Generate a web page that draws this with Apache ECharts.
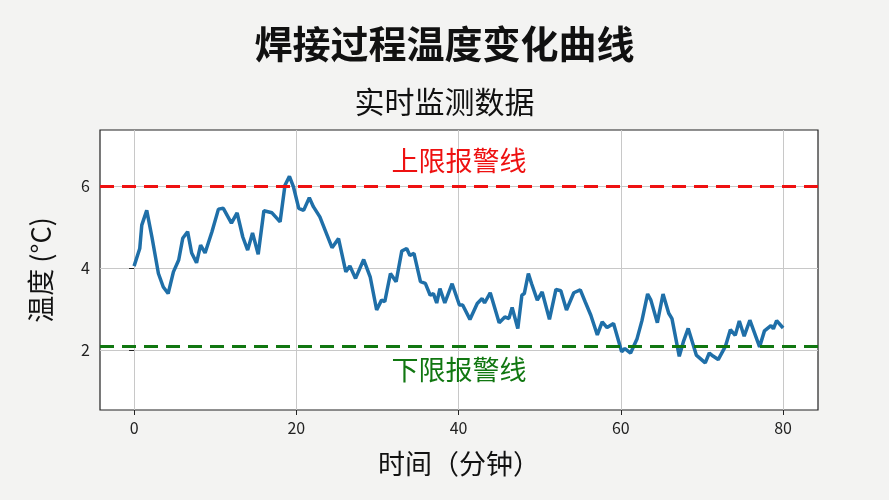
<!DOCTYPE html>
<html><head><meta charset="utf-8">
<script src="https://cdn.jsdelivr.net/npm/echarts@6/dist/echarts.min.js"></script>
<style>html,body{margin:0;padding:0;background:#f3f3f2}#c{width:889px;height:500px}</style>
</head><body><div id="c"></div>
<script>
const times = [0,0.7,0.95,1.56,2.2,3.0,3.6,4.2,4.85,5.5,6.0,6.6,7.1,7.7,8.2,8.75,9.6,10.4,11.0,12.0,12.7,13.4,14.0,14.6,15.3,16.0,17.0,18.0,18.6,19.15,19.65,20.3,20.9,21.6,22.1,22.9,23.8,24.4,25.2,26.1,26.6,27.3,28.3,29.1,29.9,30.5,30.9,31.6,32.3,33.0,33.6,34.0,34.5,35.3,35.9,36.5,36.9,37.3,37.7,38.3,39.2,40.1,40.5,41.4,42.3,42.9,43.2,43.9,45.0,45.7,46.2,46.6,47.3,47.8,48.1,48.6,49.0,49.7,50.3,51.2,52.0,52.6,53.3,54.2,55.0,55.6,56.3,57.1,57.7,58.3,59.1,60.1,60.5,61.2,62.0,62.6,63.3,63.7,64.5,65.2,65.9,66.3,67.2,67.7,68.3,69.3,70.4,70.9,71.4,72.0,72.9,73.5,74.1,74.6,75.2,75.9,77.1,77.7,78.5,78.8,79.2,80.0];
const temps = [4.05,4.48,5.05,5.41,4.76,3.87,3.54,3.38,3.91,4.2,4.73,4.89,4.37,4.13,4.56,4.37,4.89,5.44,5.46,5.1,5.35,4.76,4.44,4.86,4.34,5.4,5.35,5.13,6.02,6.24,5.98,5.46,5.41,5.72,5.5,5.25,4.8,4.5,4.72,3.91,4.05,3.75,4.21,3.79,2.98,3.22,3.18,3.87,3.67,4.42,4.48,4.31,4.36,3.67,3.63,3.34,3.38,3.15,3.5,3.15,3.62,3.1,3.1,2.75,3.14,3.26,3.15,3.4,2.67,2.81,2.77,3.04,2.53,3.34,3.38,3.87,3.62,3.22,3.42,2.75,3.48,3.45,2.98,3.4,3.47,3.18,2.85,2.37,2.69,2.55,2.65,1.96,2.04,1.93,2.28,2.72,3.37,3.22,2.67,3.37,2.9,2.77,1.85,2.2,2.53,1.88,1.69,1.93,1.85,1.77,2.1,2.5,2.36,2.71,2.34,2.73,2.08,2.47,2.6,2.52,2.72,2.54];
const xTicks = [0,20,40,60,80];
const yTicks = [2,4,6];
const upperLimit = 6.0, lowerLimit = 2.1;
const F = '"Noto Sans CJK SC","Noto Sans",sans-serif';
const chart = echarts.init(document.getElementById('c'));
chart.setOption({
  backgroundColor:'#f3f3f2',
  animation:false,
  title:[
    {text:'焊接过程温度变化曲线',left:'center',top:20,textStyle:{fontFamily:F,fontSize:38,fontWeight:'bold',color:'#111'}},
    {text:'实时监测数据',left:'center',top:82,textStyle:{fontFamily:F,fontSize:30,fontWeight:'normal',color:'#111'}}
  ],
  grid:{left:100,right:71,top:130,bottom:90,show:true,backgroundColor:'#fff',borderColor:'#222',borderWidth:1.2},
  xAxis:{type:'value',min:-4.2,max:84.3,name:'时间（分钟）',nameLocation:'middle',nameGap:40,
    nameTextStyle:{fontFamily:F,fontSize:27,color:'#111'},
    axisLine:{show:false},axisTick:{show:true,inside:false,customValues:xTicks,length:5,lineStyle:{color:'#222'}},
    axisLabel:{customValues:xTicks,fontFamily:F,fontSize:16,color:'#222',margin:10},
    splitLine:{show:true,lineStyle:{color:'#c8c8c8'}}},
  yAxis:{type:'value',min:0.54,max:7.37,name:'温度 (°C)',nameLocation:'middle',nameGap:46,nameRotate:90,
    nameTextStyle:{fontFamily:F,fontSize:27,color:'#111'},
    axisLine:{show:false},axisTick:{show:true,inside:false,customValues:yTicks,length:5,lineStyle:{color:'#222'}},
    axisLabel:{customValues:yTicks,fontFamily:F,fontSize:16,color:'#222',margin:10},
    splitLine:{show:true,lineStyle:{color:'#c8c8c8'}}},
  series:[{type:'line',data:times.map((t,i)=>[t,temps[i]]),showSymbol:false,
    lineStyle:{color:'#1f6fa8',width:3.5},
    markLine:{symbol:'none',silent:true,data:[
      {yAxis:upperLimit,lineStyle:{color:'#ee1111',type:[14,8],width:3},
        label:{formatter:'上限报警线',position:'insideMiddleTop',distance:12,color:'#ee1111',fontFamily:F,fontSize:27}},
      {yAxis:lowerLimit,lineStyle:{color:'#117711',type:[14,8],width:3},
        label:{formatter:'下限报警线',position:'insideMiddleBottom',distance:10,color:'#117711',fontFamily:F,fontSize:27}}
    ]}}]
});
</script></body></html>
